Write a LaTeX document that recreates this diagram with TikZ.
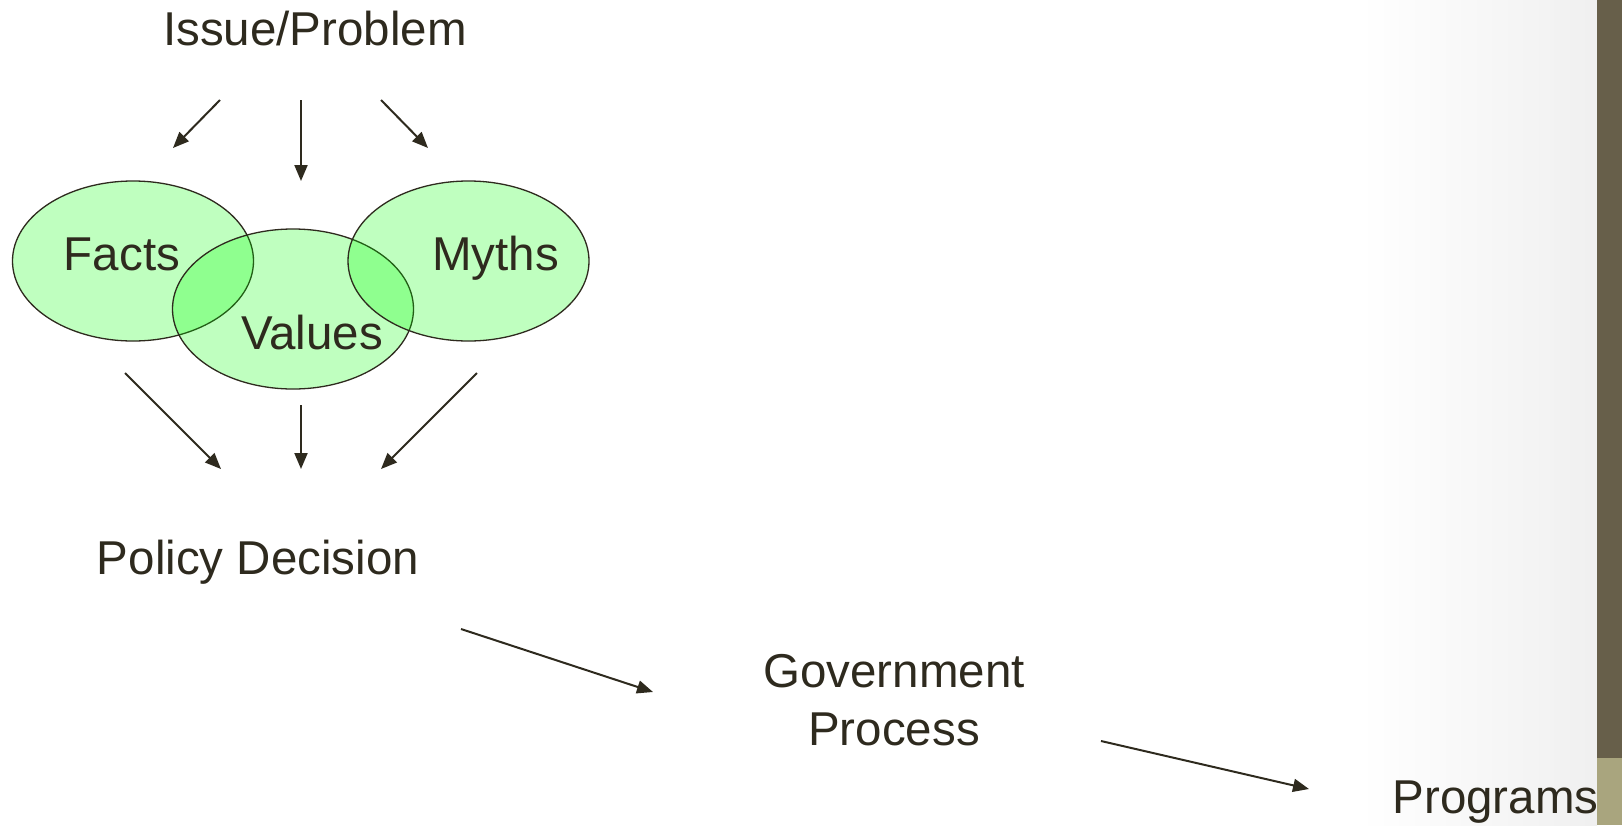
\documentclass[tikz,border=0pt]{standalone}
\usepackage{fontspec}
\setmainfont{Liberation Sans}
\usetikzlibrary{arrows.meta,shapes.geometric}
\definecolor{ink}{HTML}{2E2A1E}
\definecolor{barD}{HTML}{675F4A}
\definecolor{barL}{HTML}{A9A57E}
\begin{document}
\begin{tikzpicture}[x=1pt,y=-1pt,
  lbl/.style={anchor=base,inner sep=0pt,text=ink,font=\fontsize{47.5pt}{58pt}\selectfont},
  blob/.style={ellipse,draw=ink,line width=1.3pt,fill=green,fill opacity=0.25,draw opacity=1,
     minimum width=241pt,minimum height=160pt,inner sep=0pt},
  arr/.style={draw=ink,line width=2pt,-{Triangle[length=16pt,width=13pt]}}]
\useasboundingbox (0,0) rectangle (1622,825);
\fill[white] (0,0) rectangle (1622,825);
\shade[left color=white,right color=black!6] (1360,0) rectangle (1597,825);
\fill[barD] (1597,0) rectangle (1622,758);
\fill[barL] (1597,758) rectangle (1622,825);
% ellipses
\node[blob] (facts) at (133,261) {};
\node[blob] (values) at (293,309) {};
\node[blob] (myths) at (468.5,261) {};
% texts
\node[lbl] (issue) at (315,45) {Issue/Problem};
\node[lbl] (tfacts) at (122,270) {Facts};
\node[lbl] (tvalues) at (312,349) {Values};
\node[lbl] (tmyths) at (495.5,270) {Myths};
\node[lbl] (policy) at (258,574) {Policy Decision};
\node[lbl,align=center] (gov) at (894,745) {Government\\Process};
\node[lbl] (prog) at (1495.5,813) {Programs};
% arrow endpoints
\coordinate (a1s) at (220,100); \coordinate (a1e) at (173,148);
\coordinate (a2s) at (301,100); \coordinate (a2e) at (301,181);
\coordinate (a3s) at (381,100); \coordinate (a3e) at (428,148);
\coordinate (b1s) at (125,373); \coordinate (b1e) at (221,469);
\coordinate (b2s) at (301,405); \coordinate (b2e) at (301,469);
\coordinate (b3s) at (477,373); \coordinate (b3e) at (381,469);
\coordinate (c1s) at (461,629); \coordinate (c1e) at (653,692);
\coordinate (c2s) at (1101,741); \coordinate (c2e) at (1309,789);
\draw[arr] (a1s) -- (a1e);
\draw[arr] (a2s) -- (a2e);
\draw[arr] (a3s) -- (a3e);
\draw[arr] (b1s) -- (b1e);
\draw[arr] (b2s) -- (b2e);
\draw[arr] (b3s) -- (b3e);
\draw[arr] (c1s) -- (c1e);
\draw[arr] (c2s) -- (c2e);
\end{tikzpicture}
\end{document}
